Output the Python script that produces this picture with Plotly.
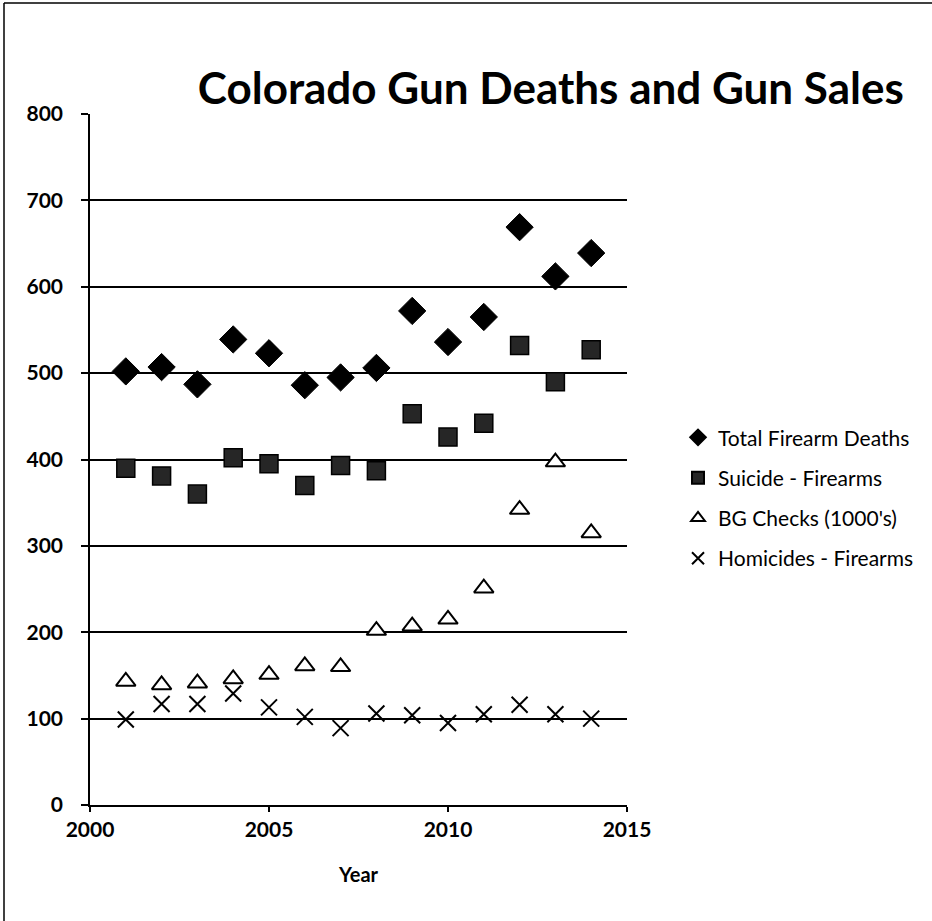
import plotly.graph_objects as go

years = list(range(2001, 2015))
total_deaths = [502, 507, 487, 539, 523, 486, 495, 506, 572, 536, 565, 669, 612, 639]
suicide = [390, 381, 360, 402, 395, 370, 393, 387, 453, 426, 442, 532, 490, 527]
bg_checks = [143, 139, 141, 146, 151, 161, 160, 202, 207, 215, 251, 342, 397, 315]
homicides = [99, 117, 117, 129, 113, 102, 89, 106, 104, 95, 105, 116, 105, 100]

series_names = ["Total Firearm Deaths", "Suicide - Firearms", "BG Checks (1000's)", "Homicides - Firearms"]

FONT = "Lato"
fig = go.Figure()
fig.add_trace(go.Scatter(x=years, y=total_deaths, mode="markers", name=series_names[0], legendgroup="a",
                         marker=dict(symbol="diamond", size=21, color="black",
                                     line=dict(color="black", width=1))))
fig.add_trace(go.Scatter(x=years, y=suicide, mode="markers", name=series_names[1], legendgroup="b",
                         marker=dict(symbol="square", size=18, color="#262626",
                                     line=dict(color="black", width=1.5))))
fig.add_trace(go.Scatter(x=years, y=bg_checks, mode="markers", name=series_names[2], legendgroup="c",
                         marker=dict(symbol="triangle-up", size=17, color="white",
                                     line=dict(color="black", width=2))))
fig.add_trace(go.Scatter(x=years, y=homicides, mode="markers", name=series_names[3], legendgroup="d",
                         marker=dict(symbol="x-thin", size=16, color="black",
                                     line=dict(color="black", width=2))))

fig.update_layout(
    width=932, height=921,
    paper_bgcolor="white", plot_bgcolor="white",
    margin=dict(l=90, r=305, t=114, b=116),
    font=dict(family=FONT, color="black"),
    title=dict(text="<b>Colorado Gun Deaths and Gun Sales</b>",
               font=dict(family=FONT, size=44, color="black"),
               x=0.591, xanchor="center", xref="container",
               y=0.904, yanchor="middle", yref="container"),
    xaxis=dict(range=[2000, 2015], tickvals=[2000, 2005, 2010, 2015],
               showgrid=False, zeroline=False, showline=True, linecolor="black", linewidth=1.5,
               ticks="outside", ticklen=5, tickcolor="black", tickwidth=1.5,
               tickfont=dict(family=FONT, size=21, weight="bold"),
               title=dict(text="<b>Year</b>", font=dict(family=FONT, size=20), standoff=28)),
    yaxis=dict(range=[0, 800], tickvals=[0, 100, 200, 300, 400, 500, 600, 700, 800],
               showgrid=True, gridcolor="black", gridwidth=1.5, zeroline=False,
               showline=True, linecolor="black", linewidth=1.5,
               ticks="outside", ticklen=7, tickcolor="black", tickwidth=1.5, ticklabelstandoff=14,
               tickfont=dict(family=FONT, size=21, weight="bold")),
    legend=dict(x=1.095, y=0.444, xanchor="left", yanchor="middle",
                font=dict(family=FONT, size=21), itemwidth=30, tracegroupgap=10,
                itemsizing="constant", traceorder="grouped",
                bgcolor="rgba(0,0,0,0)"),
    showlegend=True,
)

# outer chart border (left and top edges visible)
fig.add_shape(type="line", xref="paper", yref="paper", x0=-86/537, x1=-86/537, y0=-116/691, y1=(921-3)/691 - 116/691,
              line=dict(color="black", width=1.5))
fig.add_shape(type="line", xref="paper", yref="paper", x0=-86/537, x1=(932-90)/537, y0=(921-3-116)/691, y1=(921-3-116)/691,
              line=dict(color="black", width=1.5))

fig.write_html("out.html")
